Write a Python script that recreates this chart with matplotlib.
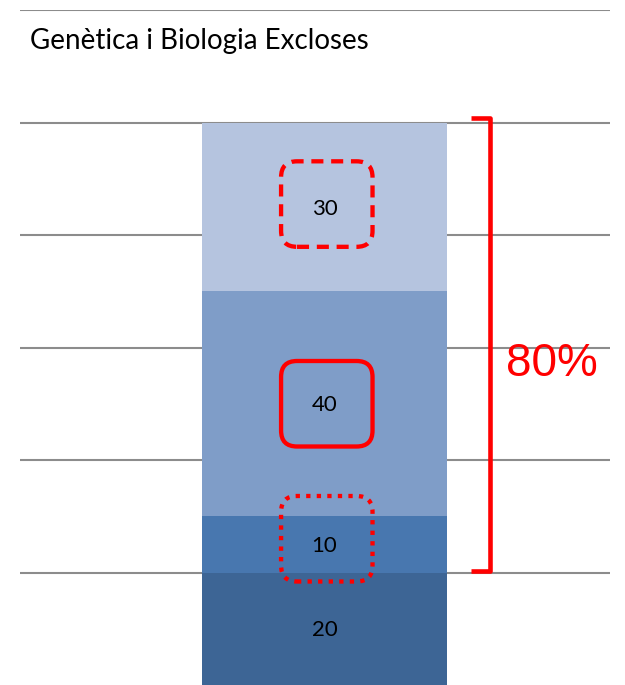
import matplotlib
matplotlib.use("Agg")
import matplotlib.pyplot as plt
from matplotlib.patches import FancyBboxPatch

# Stacked bar data (bottom to top)
segments = ["A", "B", "C", "D"]
values = [20, 10, 40, 30]
colors = ["#3D6595", "#4877AF", "#7F9DC8", "#B5C4DF"]
title = "Genètica i Biologia Excloses"
bracket_label = "80%"

W, H = 625, 685
fig = plt.figure(figsize=(W / 100, H / 100), dpi=100)
ax = fig.add_axes([20 / W, 0, 590 / W, (H - 10) / H])
ax.set_xlim(0, 1)
ax.set_ylim(0, 120)
for s in ax.spines.values():
    s.set_visible(False)
ax.set_xticks([])
ax.set_yticks([])

# gridlines
for g in range(20, 121, 20):
    ax.axhline(g, color="#8C8C8C", lw=1.5, zorder=1)

bar_x = 0.516
bar_w = 0.415
bottom = 0
centers = []
for v, c in zip(values, colors):
    ax.bar(bar_x, v, width=bar_w, bottom=bottom, color=c, zorder=2)
    centers.append(bottom + v / 2)
    ax.text(bar_x, bottom + v / 2 - 0.3, str(v), ha="center", va="center",
            fontsize=16, family="Lato", color="black", zorder=4)
    bottom += v

# red rounded boxes around labels
aspect = (590 / 1.0) / (675 / 120)
box_w = 0.155
box_h = 15.2
styles = {1: (0, (1, 1.45)), 2: "-", 3: (0, (2.8, 1.8))}
offsets = {1: 1.0, 2: 0.0, 3: 0.5}
for i, ls in styles.items():
    cy = centers[i] + offsets[i]
    p = FancyBboxPatch((bar_x + 0.004 - box_w / 2, cy - box_h / 2), box_w, box_h,
                       boxstyle="round,pad=0,rounding_size=0.027",
                       mutation_aspect=aspect, fill=False, ec="red",
                       lw=3.1, ls=ls, zorder=5)
    ax.add_patch(p)

# bracket
bx = 0.797
tick = 0.033
ax.plot([bx - tick, bx, bx, bx - tick],
        [sum(values) + 0.8, sum(values) + 0.8, values[0] + 0.3, values[0] + 0.3],
        color="red", lw=3.3, solid_joinstyle="round", solid_capstyle="butt",
        zorder=5)
ax.text(bx + 0.027, 57.0, bracket_label,
        ha="left", va="center", fontsize=33, family="Liberation Sans",
        color="red", zorder=5)

fig.text(30 / W, 1 - 49 / H, title, ha="left", va="baseline",
         fontsize=20, family="Lato", color="black")

fig.savefig("out.png", dpi=100)
